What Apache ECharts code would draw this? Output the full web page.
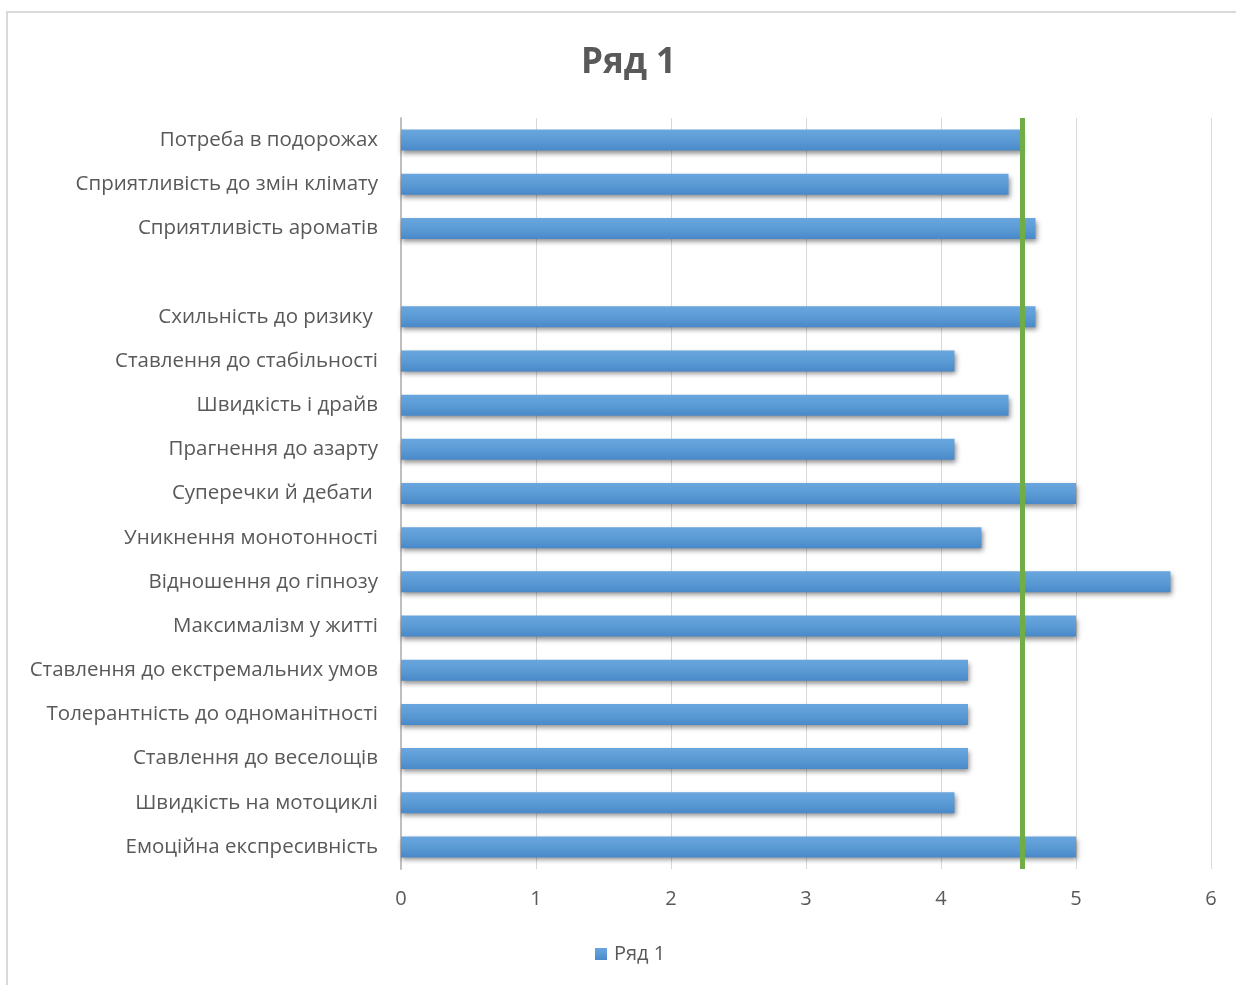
<!DOCTYPE html>
<html>
<head>
<meta charset="utf-8">
<script src="https://cdn.jsdelivr.net/npm/echarts@6/dist/echarts.min.js"></script>
<style>
  html, body { margin: 0; padding: 0; background: #fff; overflow: hidden; }
  #frame { position: absolute; left: 6px; top: 11px; width: 1250px; height: 1000px; border: 2px solid #d9d9d9; box-sizing: border-box; }
  #chart { position: absolute; left: 0; top: 0; width: 1236px; height: 985px; }
</style>
</head>
<body>
<div id="frame"></div>
<div id="chart"></div>
<script>
// Categories listed top to bottom (one blank slot separates the groups)
const categories = [
  'Потреба в подорожах',
  'Сприятливість до змін клімату',
  'Сприятливість ароматів',
  '',
  'Схильність до ризику ',
  'Ставлення до стабільності',
  'Швидкість і драйв',
  'Прагнення до азарту',
  'Суперечки й дебати ',
  'Уникнення монотонності',
  'Відношення до гіпнозу',
  'Максималізм у житті',
  'Ставлення до екстремальних умов',
  'Толерантність до одноманітності',
  'Ставлення до веселощів',
  'Швидкість на мотоциклі',
  'Емоційна експресивність'
];
const seriesName = 'Ряд 1';
const values = [4.6, 4.5, 4.7, null, 4.7, 4.1, 4.5, 4.1, 5.0, 4.3, 5.7, 5.0, 4.2, 4.2, 4.2, 4.1, 5.0];
const referenceValue = 4.6;
const xTicks = [0, 1, 2, 3, 4, 5, 6];

const textColor = '#595959';
const font = 'Open Sans';

const chart = echarts.init(document.getElementById('chart'), null, { renderer: 'canvas' });
chart.setOption({
  backgroundColor: 'transparent',
  animation: false,
  title: {
    text: seriesName,
    left: 576,
    top: 41,
    textStyle: { color: textColor, fontSize: 35, fontWeight: 'bold', fontFamily: font }
  },
  legend: {
    bottom: 16,
    left: 590,
    itemWidth: 12,
    itemHeight: 12,
    icon: 'rect',
    itemGap: 6,
    textStyle: { color: textColor, fontSize: 20, fontFamily: font, padding: [0, 0, 0, 2] },
    data: [seriesName]
  },
  grid: { left: 401, right: 25, top: 118, bottom: 116 },
  xAxis: {
    type: 'value',
    min: xTicks[0],
    max: xTicks[xTicks.length - 1],
    interval: 1,
    axisLine: { show: false },
    axisTick: { show: false },
    splitLine: { show: true, lineStyle: { color: '#d9d9d9', width: 1 } },
    axisLabel: { color: textColor, fontSize: 20, fontFamily: font, margin: 20 }
  },
  yAxis: {
    type: 'category',
    data: categories,
    inverse: true,
    axisLine: { show: true, lineStyle: { color: '#bfbfbf', width: 2 } },
    axisTick: { show: false },
    axisLabel: { color: textColor, fontSize: 20.5, fontFamily: font, margin: 23 }
  },
  series: [{
    name: seriesName,
    type: 'bar',
    data: values,
    barWidth: 21,
    itemStyle: {
      color: new echarts.graphic.LinearGradient(0, 0, 0, 1, [
        { offset: 0, color: '#6aa6de' },
        { offset: 0.5, color: '#5b9bd5' },
        { offset: 1, color: '#4a89c9' }
      ]),
      shadowColor: 'rgba(0,0,0,0.45)',
      shadowBlur: 5,
      shadowOffsetX: 1,
      shadowOffsetY: 3
    },
    markLine: {
      silent: true,
      symbol: ['none', 'none'],
      label: { show: false },
      lineStyle: { color: '#70ad47', width: 5, type: 'solid' },
      data: [{ xAxis: referenceValue }]
    }
  }]
});
</script>
</body>
</html>
